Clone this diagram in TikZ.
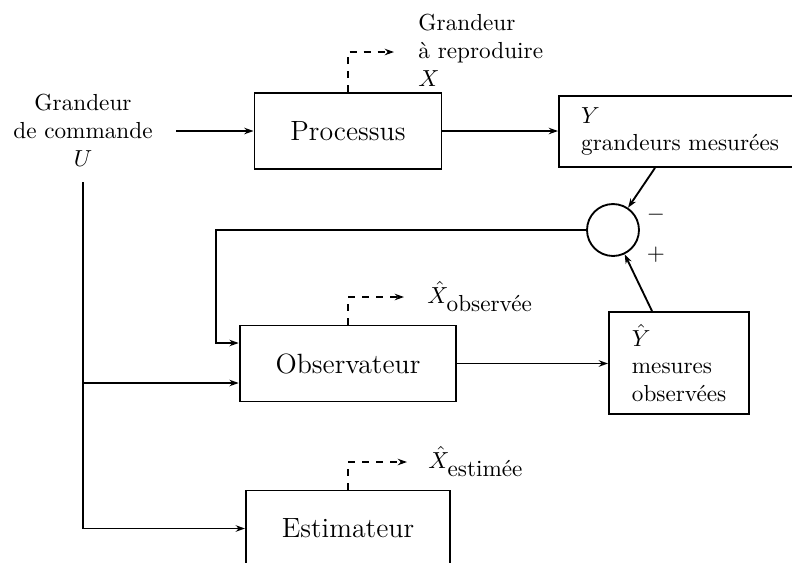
\documentclass[tikz,border=0pt]{standalone}
\usepackage{amsmath}
\usetikzlibrary{arrows.meta,calc}

\tikzset{
  wire/.style={line width=0.8pt},
  sig/.style={wire,-{Stealth[length=4pt,width=2.8pt]}},
  dsig/.style={sig,dashed},
  block/.style={draw,line width=0.8pt,rectangle,minimum height=32.8pt,inner xsep=15.5pt,font=\large},
  infobox/.style={draw,line width=0.8pt,rectangle,align=left,inner xsep=9.6pt},
  lbl/.style={inner sep=0pt,anchor=west,align=left},
  sumnode/.style={draw,line width=0.8pt,circle,minimum size=22.4pt,inner sep=0pt}
}

\begin{document}
\begin{tikzpicture}[x=0.431pt,y=-0.431pt]
  % page area; the boxes at the right and bottom edges run past it
  \clip (0,0) rectangle (792,562);

  % blocks
  \node[block] (proc) at (348,131) {Processus};
  \node[block] (obs) at (348,363.5) {Observateur};
  \node[block] (est) at (348,528.5) {Estimateur};
  \node[infobox,anchor=west,text width=95pt,minimum height=30.6pt] (ymes) at (558,131.5)
    {$Y$\\grandeurs mesurées};
  \node[infobox,text width=40.6pt,inner xsep=9.9pt,minimum height=44pt] (yobs) at (679,363)
    {$\hat{Y}$\\mesures\\observées};
  \node[sumnode] (sum) at (613,230) {};
  \node (minus) at (656,215) {$-$};
  \node (plus) at (656,255) {$+$};

  % input
  \node[align=center] (cmd) at (83,130) {Grandeur\\de commande\\$U$};
  \coordinate (cmdout) at (176,131);
  \coordinate (u) at (83,182);
  \draw[sig] (cmdout) -- (proc.west |- cmdout);

  % outputs of the blocks
  \node[lbl] (xrep) at (418,50) {Grandeur\\à reproduire\\$X$};
  \coordinate (xrepin) at (394,52);
  \draw[dsig] (proc.north) |- (xrepin);

  \node[lbl] (xobs) at (427,297) {$\hat{X}_{\mbox{observée}}$};
  \coordinate (xobsin) at (404,297);
  \draw[dsig] (obs.north) |- (xobsin);

  \node[lbl] (xest) at (428,462) {$\hat{X}_{\mbox{estimée}}$};
  \coordinate (xestin) at (407,462);
  \draw[dsig] (est.north) |- (xestin);

  % measured and observed outputs
  \draw[sig] (proc.east) -- (ymes.west |- proc.east);
  \draw[sig] (obs.east) -- (yobs.west |- obs.east);
  \draw[sig] ($(ymes.south west)+(97,0)$) -- (sum);
  \draw[sig] ($(yobs.north west)+(44,0)$) -- (sum);

  % correction fed back to the observer
  \coordinate (corr) at ($(obs.west)+(0,-20.5)$);
  \draw[sig] (sum.west) -- ++(-370,0) |- (corr);

  % command distributed to observer and estimator
  \coordinate (cobs) at ($(obs.west)+(0,19.5)$);
  \draw[sig] (u) |- (est.west);
  \draw[sig] (u |- cobs) -- (cobs);
\end{tikzpicture}
\end{document}
